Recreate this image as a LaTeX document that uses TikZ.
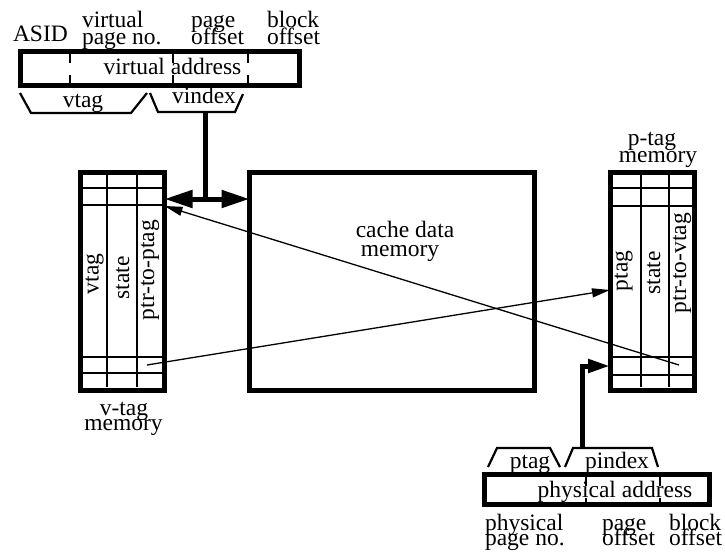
\documentclass[tikz,border=0pt]{standalone}
\usepackage{fontspec}
\setmainfont{Liberation Serif}
\usetikzlibrary{arrows.meta}
\begin{document}
\begin{tikzpicture}[x=1pt,y=-1pt,
  every node/.style={inner sep=0pt,outer sep=0pt,font=\fontsize{23.5}{18}\selectfont},
  bigbox/.style={draw,line width=5pt,minimum width=#1,inner sep=0pt},
  divider/.style={line width=2.5pt,dash pattern=on 9pt off 12pt},
  gridline/.style={line width=1.2pt},
  bracketline/.style={line width=2.2pt},
  thinarrow/.style={line width=1.3pt,-{Triangle[length=18pt,width=9pt]}},
  thickline/.style={line width=5pt},
  lbl/.style={anchor=base west},
  clbl/.style={anchor=base},
  rot/.style={rotate=90,anchor=center}]
\useasboundingbox (0,0) rectangle (725,552);

% ---------- boxes ----------
\node[bigbox=279pt,minimum height=33.5pt] (va) at (160,68.25) {};
\node[bigbox=84pt,minimum height=217.5pt] (vt) at (122.5,281.25) {};
\node[bigbox=285pt,minimum height=217.5pt] (cache) at (392,281.25) {};
\node[bigbox=84.5pt,minimum height=217.5pt] (pt) at (652.25,281.25) {};
\node[bigbox=225pt,minimum height=30pt] (pa) at (597,489.5) {};

% ---------- virtual address ----------
\foreach \x in {70,173,248} \draw[divider] (\x,54) -- (\x,83);
\node[clbl] (vatext) at (172.5,74) {virtual address};
\node[lbl] (asid) at (13,41) {ASID};
\node[lbl] (vpn1) at (82,27) {virtual};
\node[lbl] (vpn2) at (82,44) {page no.};
\node[lbl] (vpo1) at (191,27) {page};
\node[lbl] (vpo2) at (191,44) {offset};
\node[lbl] (vbo1) at (267,27) {block};
\node[lbl] (vbo2) at (267,44) {offset};

\draw[bracketline] (20,93) -- (31,113) -- (131,113) -- (147,93);
\draw[bracketline] (150,93) -- (158,112) -- (235,112) -- (243,94);
\node[clbl] (vtaglbl) at (83,107) {vtag};
\node[clbl] (vindexlbl) at (204,103) {vindex};
\coordinate (vix) at (205.5,112);
\coordinate (vjoin) at (205.5,199);

% ---------- v-tag memory ----------
\foreach \y in {188,205,357,373} \draw[gridline] (83,\y) -- (162,\y);
\foreach \x in {107,137} \draw[gridline] (\x,175) -- (\x,387);
\node[rot] (vt1) at (94.5,274) {vtag};
\node[rot] (vt2) at (122.5,278) {state};
\node[rot] (vt3) at (150,270) {ptr-to-ptag};
\node[clbl] (vtm1) at (124,415) {v-tag};
\node[clbl] (vtm2) at (123.5,430) {memory};

% ---------- cache ----------
\node[clbl] (cd1) at (405,237) {cache data};
\node[clbl] (cd2) at (400,256) {memory};

% ---------- p-tag memory ----------
\foreach \y in {188,206,357,375} \draw[gridline] (612,\y) -- (692,\y);
\foreach \x in {641,669} \draw[gridline] (\x,175) -- (\x,387);
\node[rot] (pt1) at (623.5,271) {ptag};
\node[rot] (pt2) at (653.5,273) {state};
\node[rot] (pt3) at (682,263) {ptr-to-vtag};
\node[clbl] (ptm1) at (652,145) {p-tag};
\node[clbl] (ptm2) at (658,162) {memory};

% ---------- physical address ----------
\foreach \x in {586,660} \draw[divider] (\x,477) -- (\x,502);
\node[clbl] (patext) at (615,497) {physical address};
\draw[bracketline] (488,467) -- (497,448) -- (550,448) -- (560,467);
\draw[bracketline] (565,467) -- (573,448) -- (652,448) -- (658,467);
\node[clbl] (ptaglbl) at (530,468) {ptag};
\node[clbl] (pindexlbl) at (617,468) {pindex};
\coordinate (pix) at (582.5,448);
\node[lbl] (ppn1) at (485,530) {physical};
\node[lbl] (ppn2) at (485,545.5) {page no.};
\node[lbl] (ppo1) at (602,530) {page};
\node[lbl] (ppo2) at (602,545.5) {offset};
\node[lbl] (pbo1) at (669,530) {block};
\node[lbl] (pbo2) at (669,545.5) {offset};

% ---------- connectors ----------
\draw[thickline] (vix) -- (vjoin);
\draw[thickline,{Triangle[length=28pt,width=17pt]}-{Triangle[length=28pt,width=17pt]}]
  (vt.east |- vjoin) -- (cache.west |- vjoin);
\coordinate (vtsrc) at (147,365);
\coordinate (ptsrc) at (679,365);
\draw[thinarrow] (vtsrc) -- (pt.west |- {(0,290)});
\draw[thinarrow] (ptsrc) -- (vt.east |- {(0,206)});
\draw[thickline,-{Triangle[length=22pt,width=13pt]}] (pix) |- (pt.west |- {(0,366)});
\end{tikzpicture}
\end{document}
